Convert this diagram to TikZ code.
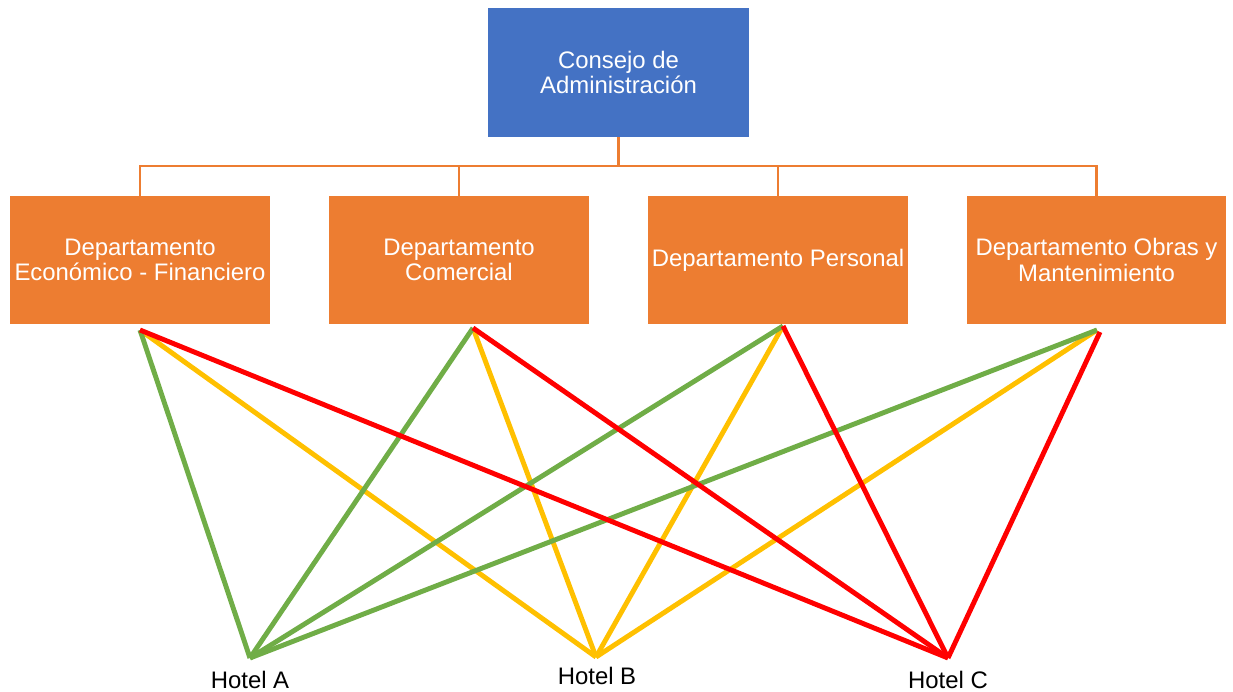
\documentclass[tikz,border=0pt]{standalone}
\usepackage{fontspec}
\setmainfont{Liberation Sans}
\usepackage{xcolor}
\usetikzlibrary{positioning}
\definecolor{orgblue}{RGB}{68, 114, 196}
\definecolor{orgorange}{RGB}{237, 125, 49}
\definecolor{orggreen}{RGB}{112, 173, 71}
\definecolor{orgyellow}{RGB}{255, 192, 0}
\definecolor{orgred}{RGB}{255, 0, 0}

\begin{document}
\begin{tikzpicture}[
    x=0.02cm, y=-0.02cm,
    board/.style={
        rectangle, fill=orgblue, text=white, align=center,
        minimum width=5.22cm, minimum height=2.58cm, inner sep=0pt,
        font=\fontsize{13.6}{14.5}\selectfont
    },
    dept/.style={
        rectangle, fill=orgorange, text=white, align=center,
        minimum width=5.2cm, minimum height=2.56cm, inner sep=0pt,
        font=\fontsize{13.6}{14.5}\selectfont
    },
    tree/.style={orgorange, line width=1.2pt},
    hotel/.style={font=\fontsize{13.6}{14.5}\selectfont, inner sep=0pt},
    linkA/.style={orggreen, line width=2.8pt},
    linkB/.style={orgyellow, line width=2.8pt},
    linkC/.style={orgred, line width=2.8pt}
]
\useasboundingbox (0,0) rectangle (1233,692);

\node[board] (consejo) at (618.5,72.5) {Consejo de\\Administración};

\node[dept] (econ) at (140,260) {Departamento\\Económico - Financiero};
\node[dept] (comer) at (459,260) {Departamento\\Comercial};
\node[dept] (pers) at (778,260) {Departamento Personal};
\node[dept] (obras) at (1096.5,260) {Departamento Obras y\\Mantenimiento};

% organigrama
\coordinate (bus) at (618.5,166);
\draw[tree] (consejo.south) -- (bus);
\draw[tree] (econ.north) -- (econ.north |- bus) -- (obras.north |- bus) -- (obras.north);
\draw[tree] (comer.north) -- (comer.north |- bus);
\draw[tree] (pers.north) -- (pers.north |- bus);

% puntos de salida
\coordinate (e1) at (140,330);
\coordinate (c1) at (473,328);
\coordinate (p1) at (783,326);
\coordinate (o1) at (1097,330);
\coordinate (o2) at (1100,332);

% hoteles
\coordinate (ha) at (250,658);
\coordinate (hb) at (596,657);
\coordinate (hc) at (948,658);
\node[hotel] (hotA) at (250,680) {Hotel A};
\node[hotel] (hotB) at (597,676) {Hotel B};
\node[hotel] (hotC) at (948,680) {Hotel C};

\draw[linkB] (e1) -- (hb);
\draw[linkB] (c1) -- (hb);
\draw[linkB] (p1) -- (hb);
\draw[linkB] (o1) -- (hb);

\draw[linkA] (e1) -- (ha);
\draw[linkA] (c1) -- (ha);
\draw[linkA] (p1) -- (ha);
\draw[linkA] (o1) -- (ha);

\draw[linkC] (e1) -- (hc);
\draw[linkC] (c1) -- (hc);
\draw[linkC] (p1) -- (hc);
\draw[linkC] (o2) -- (hc);

\end{tikzpicture}
\end{document}
